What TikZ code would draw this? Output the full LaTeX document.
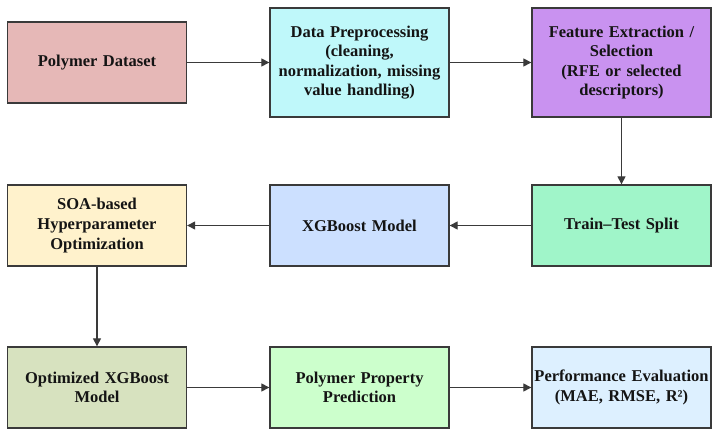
\documentclass[tikz,border=0pt]{standalone}
\usepackage{fontspec}
\setmainfont{Liberation Serif}
\usetikzlibrary{arrows.meta}
\definecolor{c1}{HTML}{E6B8B7}
\definecolor{c2}{HTML}{BFF8FA}
\definecolor{c3}{HTML}{C992F0}
\definecolor{c4}{HTML}{FFF2CC}
\definecolor{c5}{HTML}{CCE0FF}
\definecolor{c6}{HTML}{A0F5C9}
\definecolor{c7}{HTML}{D7E2BF}
\definecolor{c8}{HTML}{CCFFCC}
\definecolor{c9}{HTML}{DDF0FF}
\definecolor{edge}{HTML}{3A3A3A}
\tikzset{
  box/.style={draw=edge, line width=1.3pt, rectangle, minimum width=179pt, minimum height=81pt,
    inner sep=0.5pt, align=center, text width=178pt,
    font=\fontsize{16.5}{19.6}\selectfont\bfseries, text=black!92},
  tall/.style={minimum height=109pt},
  conn/.style={draw=edge, line width=1.1pt, -{Triangle[length=8pt,width=8pt]}}
}
\begin{document}
\begin{tikzpicture}[x=1pt,y=1pt]
\useasboundingbox (0,0) rectangle (718,-438);
\node[box, fill=c1] (b1) at (97,-62.5) {Polymer Dataset};
\node[box, tall, fill=c2] (b2) at (359.5,-62.5) {Data Preprocessing\\(cleaning,\\normalization, missing\\value handling)};
\node[box, tall, fill=c3] (b3) at (621.5,-62.5) {Feature Extraction /\\Selection\\(RFE or selected\\descriptors)};
\node[box, fill=c4] (b4) at (97,-225.5) {SOA-based\\Hyperparameter\\Optimization};
\node[box, fill=c5] (b5) at (359.5,-225.5) {XGBoost Model};
\node[box, fill=c6] (b6) at (621.5,-225.5) {Train–Test Split};
\node[box, fill=c7] (b7) at (97,-387.5) {Optimized XGBoost\\Model};
\node[box, fill=c8] (b8) at (359.5,-387.5) {Polymer Property\\Prediction};
\node[box, fill=c9] (b9) at (621.5,-387.5) {Performance Evaluation\\(MAE, RMSE, R²)};
\draw[conn] (b1) -- (b2);
\draw[conn] (b2) -- (b3);
\draw[conn] (b3) -- (b6);
\draw[conn] (b6) -- (b5);
\draw[conn] (b5) -- (b4);
\draw[conn] (b4) -- (b7);
\draw[conn] (b7) -- (b8);
\draw[conn] (b8) -- (b9);
\end{tikzpicture}
\end{document}
